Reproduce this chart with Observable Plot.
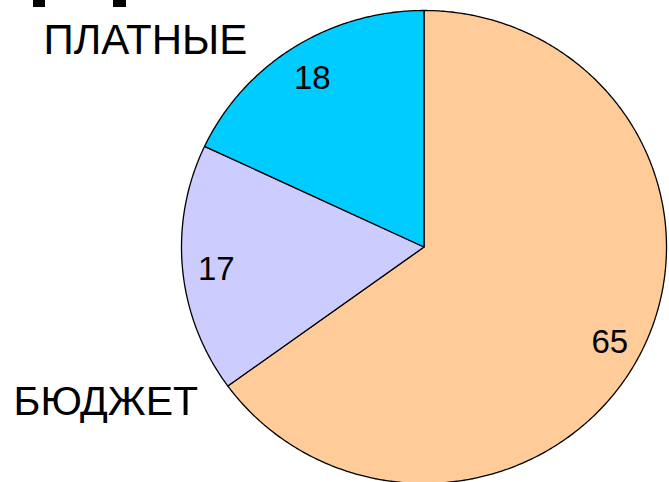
<!DOCTYPE html>
<html>
<head>
<meta charset="utf-8">
<script src="https://cdn.jsdelivr.net/npm/d3@7"></script>
<script src="https://cdn.jsdelivr.net/npm/@observablehq/plot@0.6"></script>
<style>
  html, body { margin: 0; padding: 0; background: #fff; overflow: hidden; }
  #wrap { position: relative; width: 669px; height: 482px; }
  .mark { position: absolute; top: 0; height: 7px; background: #000; }
</style>
</head>
<body>
<div id="wrap">
  <div class="mark" style="left:33px;width:12px"></div>
  <div class="mark" style="left:113px;width:13px"></div>
</div>
<script>
// Data
const sliceNames = ["A", "B", "ПЛАТНЫЕ"];
const sliceValues = [65, 17, 18];
const sliceColors = ["#FFCC99", "#CCCCFF", "#00CCFF"];
const categoryLabels = ["ПЛАТНЫЕ", "БЮДЖЕТ"];

const total = d3.sum(sliceValues);
let acc = 0;
const slices = sliceValues.map((v, i) => {
  const a0 = acc / total * 2 * Math.PI;
  acc += v;
  const a1 = acc / total * 2 * Math.PI;
  return {name: sliceNames[i], value: v, color: sliceColors[i], a0, a1, mid: (a0 + a1) / 2};
});

// polygon points (angle clockwise from 12 o'clock, unit radius)
function wedge(s) {
  const pts = [{x: 0, y: 0}];
  const n = Math.max(2, Math.ceil((s.a1 - s.a0) / (Math.PI / 360)));
  for (let k = 0; k <= n; k++) {
    const a = s.a0 + (s.a1 - s.a0) * k / n;
    pts.push({x: Math.sin(a), y: Math.cos(a)});
  }
  pts.push({x: 0, y: 0});
  return pts;
}

const labelR = 0.86;
const valueLabels = slices.map(s => ({x: labelR * Math.sin(s.mid), y: labelR * Math.cos(s.mid), text: String(s.value)}));

const chart = Plot.plot({
  width: 669,
  height: 482,
  margin: 0,
  x: {domain: [-1, 1], range: [181, 666], axis: null},
  y: {domain: [-1, 1], range: [483, 10], axis: null},
  style: {fontFamily: "'Liberation Sans', Arial, sans-serif", background: "transparent", overflow: "visible"},
  marks: [
    ...slices.map(s => Plot.line(wedge(s), {x: "x", y: "y", fill: s.color, stroke: "#000", strokeWidth: 1.3, curve: "linear"})),
    Plot.text(valueLabels, {x: "x", y: "y", text: "text", fontSize: 33, fill: "#000", textAnchor: "middle", dy: 3}),
    Plot.text([categoryLabels[0]], {frameAnchor: "top-left", text: d => d, dx: 43, dy: 24, fontSize: 42, fill: "#000", textAnchor: "start"}),
    Plot.text([categoryLabels[1]], {frameAnchor: "top-left", text: d => d, dx: 13, dy: 385, fontSize: 41, fill: "#000", textAnchor: "start"})
  ]
});
chart.style.position = "absolute";
chart.style.left = "0";
chart.style.top = "0";
document.getElementById("wrap").appendChild(chart);
</script>
</body>
</html>
